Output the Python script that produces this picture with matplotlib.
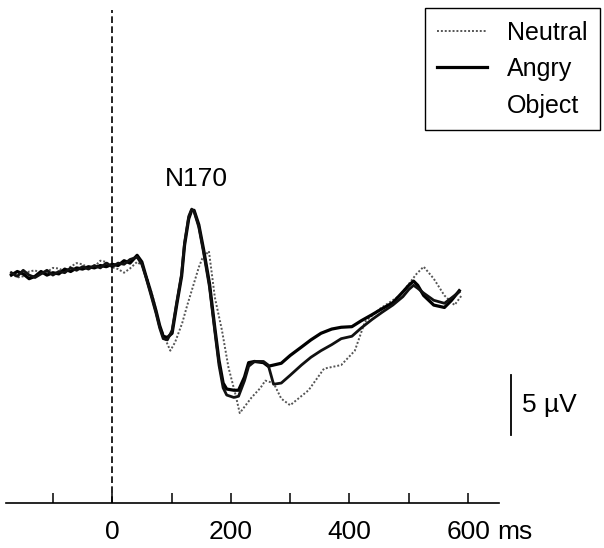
import matplotlib
matplotlib.use('Agg')
import matplotlib.pyplot as plt
from matplotlib.lines import Line2D

plt.rcParams['font.family'] = ['Liberation Sans', 'DejaVu Sans']

# ERP waveforms, time in ms, amplitude in microvolts (negative plotted up)
t_angry = [-170, -160, -150, -140, -130, -120, -110, -100, -90, -80, -70, -60, -50, -40, -30, -20, -10, 0,
           10, 20, 30, 42, 50, 57, 65, 74, 80, 86, 93, 101, 109, 117, 122, 129, 134, 138, 146, 154,
           164, 173, 180, 187, 193, 205, 213, 223, 230, 240, 255, 263, 272, 285, 300, 319, 335, 352,
           370, 386, 404, 420, 438, 455, 473, 490, 500, 508, 515, 525, 542, 560, 572, 585]
angry = [0.4, 0.1, 0.3, 0.7, 0.5, 0.1, 0.4, 0.2, 0.3, -0.1, 0.1, -0.2, -0.1, -0.3, -0.2, -0.4, -0.3, -0.5,
         -0.4, -0.8, -0.6, -1.25, -0.7, 0.5, 1.8, 3.4, 4.6, 5.5, 5.6, 5.25, 2.8, 0.5, -2.1, -4.3, -5.0, -5.0,
         -3.8, -1.75, 1.1, 4.8, 7.5, 9.4, 9.9, 10.0, 10.0, 8.9, 7.7, 7.6, 7.7, 8.0, 7.9, 7.75, 7.1, 6.4,
         5.8, 5.25, 4.9, 4.75, 4.7, 4.2, 3.7, 3.2, 2.7, 1.8, 1.25, 0.9, 1.25, 2.1, 2.9, 3.1, 2.5, 1.7]

t_object = list(t_angry)
obj = [0.2, 0.5, 0.0, 0.4, 0.6, 0.3, 0.0, 0.4, 0.1, 0.2, -0.2, 0.0, -0.3, -0.1, -0.4, -0.2, -0.6, -0.3,
       -0.6, -0.5, -0.9, -1.1, -0.5, 0.6, 2.0, 3.6, 4.8, 5.7, 5.8, 5.0, 2.6, 0.3, -2.3, -4.5, -5.1, -4.9,
       -3.6, -1.5, 1.4, 5.1, 7.9, 9.8, 10.4, 10.6, 10.5, 9.2, 8.0, 7.6, 7.6, 7.9, 9.5, 9.4, 8.75, 7.9,
       7.25, 6.7, 6.2, 5.7, 5.5, 4.8, 4.1, 3.5, 2.9, 2.2, 1.6, 1.25, 1.5, 1.9, 2.5, 2.75, 2.3, 1.8]

t_neutral = [-170, -160, -150, -140, -130, -120, -110, -100, -90, -80, -70, -60, -50, -40, -30, -20, -10, 0,
             10, 20, 30, 42, 50, 60, 70, 80, 90, 98, 106, 118, 126, 134, 146, 152, 163, 168, 173, 185,
             196, 208, 215, 225, 235, 250, 258, 272, 285, 300, 331, 357, 386, 409, 426, 450, 485, 513,
             525, 542, 560, 577, 589]
neutral = [0.25, 0.6, 0.5, 0.1, 0.0, 0.3, 0.15, -0.2, -0.15, 0.1, -0.3, -0.6, -0.5, -0.2, -0.3, -0.8, -0.7, -0.25,
           -0.1, 0.2, -0.15, -0.7, -0.4, 0.8, 2.5, 4.6, 5.8, 6.7, 6.0, 4.4, 3.0, 1.7, -0.25, -1.0, -1.6, 0.3,
           2.25, 5.0, 8.1, 10.4, 11.9, 11.25, 10.6, 9.8, 9.2, 9.4, 10.7, 11.25, 10.0, 8.2, 7.9, 6.7, 4.3,
           3.25, 2.1, 0.3, -0.3, 0.7, 2.1, 2.9, 2.1]

major_ticks = [0, 200, 400, 600]
minor_ticks = [-100, 100, 300, 500]

fig = plt.figure(figsize=(6.04, 5.48), dpi=100)
ax = fig.add_axes([6 / 604, 45 / 548, 493 / 604, 493 / 548])

ln_n, = ax.plot(t_neutral, neutral, color='#555555', lw=1.4, ls=(0, (1, 1)))
ln_a, = ax.plot(t_angry, angry, color='black', lw=2.3)
ax.plot(t_object, obj, color='#111111', lw=2.0)

ax.axvline(0, color='black', lw=1.2, ls=(0, (4, 2)))

ax.set_xlim(-179, 652)
ax.set_ylim(19.4, -21.7)

for s in ['top', 'left', 'right']:
    ax.spines[s].set_visible(False)
ax.spines['bottom'].set_linewidth(1.2)
ax.set_yticks([])
ax.set_xticks(major_ticks)
ax.set_xticks(minor_ticks, minor=True)
ax.set_xticklabels([str(v) for v in major_ticks])
ax.tick_params(axis='x', which='both', direction='in', length=7, width=1.1, labelsize=19, pad=12)
# unit after the last tick label
ax.annotate('ms', xy=(600, 0), xycoords=ax.get_xaxis_transform(),
            xytext=(21, -12), textcoords='offset points',
            fontsize=19, ha='left', va='top', annotation_clip=False)

ax.text(142, -7.6, 'N170', fontsize=19, ha='center', va='center')

# 5 uV scale bar
ax.plot([673, 673], [8.7, 13.7], color='black', lw=1.3, clip_on=False)
ax.text(690, 11.2, '5 \u00b5V', fontsize=19, ha='left', va='center', clip_on=False)

blank = Line2D([], [], color='none')
leg = fig.legend([ln_n, ln_a, blank], ['Neutral', 'Angry', 'Object'],
                 loc='upper right', bbox_to_anchor=(600 / 604, 1 - 8 / 548),
                 fontsize=18, frameon=True, fancybox=False, framealpha=1,
                 handlelength=2.0, handletextpad=0.8, borderpad=0.5,
                 labelspacing=0.5, borderaxespad=0)
leg.get_frame().set_edgecolor('black')
leg.get_frame().set_linewidth(1.0)

fig.savefig('out.png', dpi=100)
